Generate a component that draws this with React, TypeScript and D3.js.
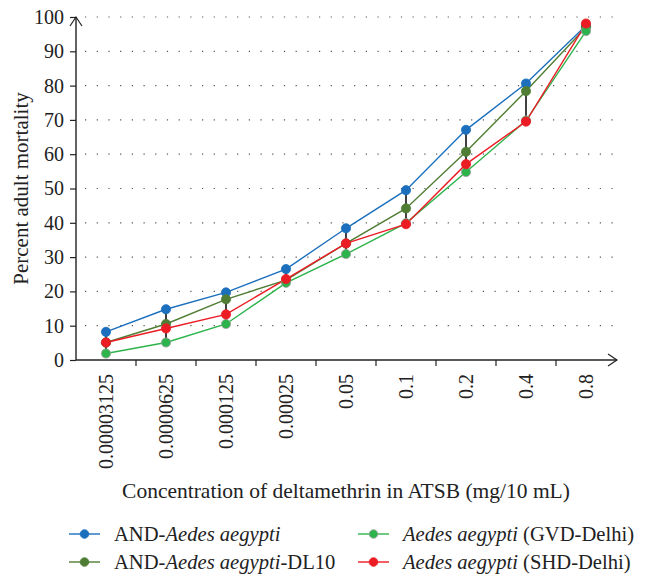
import React, { useEffect, useRef } from 'react';
import * as d3 from 'd3';

const concentrations = ['0.00003125', '0.0000625', '0.000125', '0.00025', '0.05', '0.1', '0.2', '0.4', '0.8'];
const yTicks = [0, 10, 20, 30, 40, 50, 60, 70, 80, 90, 100];

const andAegypti = [8.2, 14.8, 19.7, 26.5, 38.4, 49.5, 67.1, 80.6, 97.5];
const andAegyptiDL10 = [5.1, 10.5, 17.7, 23.3, 34.0, 44.2, 60.7, 78.4, 97.0];
const gvdDelhi = [1.9, 5.1, 10.5, 22.5, 30.9, 39.9, 54.8, 69.8, 95.9];
const shdDelhi = [5.1, 9.2, 13.3, 23.6, 34.0, 39.6, 57.1, 69.5, 98.1];

const seriesNames = [
  ['AND-', 'Aedes aegypti', ''],
  ['AND-', 'Aedes aegypti', '-DL10'],
  ['', 'Aedes aegypti', ' (GVD-Delhi)'],
  ['', 'Aedes aegypti', ' (SHD-Delhi)'],
];

const FONT = '"Liberation Serif", "Times New Roman", serif';

const App = () => {
  const svgRef = useRef<SVGSVGElement>(null);
  const width = 648;
  const height = 574;

  useEffect(() => {
    const svg = d3.select(svgRef.current);
    svg.selectAll('*').remove();

    const left = 76, right = 616, top = 17, bottom = 360;

    const x = d3.scaleBand().domain(concentrations).range([left, right]).padding(0);
    const y = d3.scaleLinear().domain([0, 100]).range([bottom, top]);
    const cx = (d: string) => (x(d) as number) + x.bandwidth() / 2;

    const series = [
      { values: andAegypti, color: '#1b6fbd', stroke: '#1b6fbd' },
      { values: andAegyptiDL10, color: '#4f7d33', stroke: '#4f7d33' },
      { values: gvdDelhi, color: '#2db34c', stroke: '#a0a0a0' },
      { values: shdDelhi, color: '#ec1c24', stroke: '#ec1c24' },
    ];

    // dotted grid
    svg.append('g')
      .selectAll('line')
      .data(yTicks.filter(t => t > 0))
      .enter()
      .append('line')
      .attr('x1', left + 9)
      .attr('x2', right + 2)
      .attr('y1', d => y(d))
      .attr('y2', d => y(d))
      .attr('stroke', '#555')
      .attr('stroke-width', 1.2)
      .attr('stroke-dasharray', '1.2 10.5');

    // y axis
    const yAxis = d3.axisLeft(y).tickValues(yTicks).tickSize(6).tickPadding(6);
    const gy = svg.append('g').attr('transform', `translate(${left},0)`).call(yAxis);
    gy.select('.domain').remove();
    gy.selectAll('line').attr('stroke', '#222').attr('stroke-width', 1.2);
    gy.selectAll('text').attr('font-family', FONT).attr('font-size', 20).attr('fill', '#222');
    svg.append('line')
      .attr('x1', left).attr('x2', left).attr('y1', bottom).attr('y2', top)
      .attr('stroke', '#222').attr('stroke-width', 1.4);
    svg.append('path')
      .attr('d', `M${left - 6},${top + 9}L${left},${top}L${left + 6},${top + 9}`)
      .attr('fill', 'none').attr('stroke', '#222').attr('stroke-width', 1.2);

    // x axis
    svg.append('line')
      .attr('x1', left).attr('x2', right + 1).attr('y1', bottom).attr('y2', bottom)
      .attr('stroke', '#222').attr('stroke-width', 1.4);
    svg.append('path')
      .attr('d', `M${right - 8},${bottom - 6}L${right + 1},${bottom}L${right - 8},${bottom + 6}`)
      .attr('fill', 'none').attr('stroke', '#222').attr('stroke-width', 1.2);
    svg.append('g')
      .selectAll('line')
      .data(concentrations.slice(1))
      .enter()
      .append('line')
      .attr('x1', d => x(d) as number)
      .attr('x2', d => x(d) as number)
      .attr('y1', bottom)
      .attr('y2', bottom + 6)
      .attr('stroke', '#222')
      .attr('stroke-width', 1.2);
    svg.append('g')
      .selectAll('text')
      .data(concentrations)
      .enter()
      .append('text')
      .attr('transform', d => `translate(${cx(d) + 7},${bottom + 14}) rotate(-90)`)
      .attr('text-anchor', 'end')
      .attr('font-family', FONT)
      .attr('font-size', 20)
      .attr('fill', '#222')
      .text(d => d);

    // axis titles
    svg.append('text')
      .attr('transform', `translate(28,${(top + bottom) / 2}) rotate(-90)`)
      .attr('text-anchor', 'middle')
      .attr('font-family', FONT)
      .attr('font-size', 21)
      .attr('fill', '#222')
      .text('Percent adult mortality');
    svg.append('text')
      .attr('x', 346)
      .attr('y', 498)
      .attr('text-anchor', 'middle')
      .attr('font-family', FONT)
      .attr('font-size', 21.5)
      .attr('fill', '#222')
      .text('Concentration of deltamethrin in ATSB (mg/10 mL)');

    // lines
    const line = d3.line<number>()
      .x((_, i) => cx(concentrations[i]))
      .y(d => y(d));
    series.forEach(s => {
      svg.append('path')
        .attr('d', line(s.values))
        .attr('fill', 'none')
        .attr('stroke', s.color)
        .attr('stroke-width', 1.4);
    });

    // high-low lines
    svg.append('g')
      .selectAll('line')
      .data(concentrations)
      .enter()
      .append('line')
      .attr('x1', d => cx(d))
      .attr('x2', d => cx(d))
      .attr('y1', (_, i) => y(d3.max(series, s => s.values[i]) as number))
      .attr('y2', (_, i) => y(d3.min(series, s => s.values[i]) as number))
      .attr('stroke', '#111')
      .attr('stroke-width', 1.6);

    // markers
    series.forEach(s => {
      svg.append('g')
        .selectAll('circle')
        .data(s.values)
        .enter()
        .append('circle')
        .attr('cx', (_, i) => cx(concentrations[i]))
        .attr('cy', d => y(d))
        .attr('r', 4.6)
        .attr('fill', s.color)
        .attr('stroke', s.stroke)
        .attr('stroke-opacity', 0.8)
        .attr('stroke-width', 1);
    });

    // legend
    const legendPos = [
      { lx: 69, ly: 534 },
      { lx: 69, ly: 562 },
      { lx: 358, ly: 534 },
      { lx: 358, ly: 562 },
    ];
    series.forEach((s, i) => {
      const p = legendPos[i];
      const g = svg.append('g');
      g.append('line')
        .attr('x1', p.lx).attr('x2', p.lx + 31)
        .attr('y1', p.ly).attr('y2', p.ly)
        .attr('stroke', s.color).attr('stroke-width', 1.4);
      g.append('circle')
        .attr('cx', p.lx + 15.5).attr('cy', p.ly).attr('r', 4.3)
        .attr('fill', s.color).attr('stroke', s.stroke).attr('stroke-width', 0.8);
      const t = g.append('text')
        .attr('x', p.lx + 45)
        .attr('y', p.ly + 6.5)
        .attr('font-family', FONT)
        .attr('font-size', 20.6)
        .attr('fill', '#222');
      const [a, b, c] = seriesNames[i];
      if (a) t.append('tspan').text(a);
      t.append('tspan').attr('font-style', 'italic').text(b);
      if (c) t.append('tspan').text(c);
    });
  }, []);

  return (
    <svg
      ref={svgRef}
      width={width}
      height={height}
      style={{ position: 'absolute', left: 0, top: 0, display: 'block' }}
    ></svg>
  );
};

export default App;
